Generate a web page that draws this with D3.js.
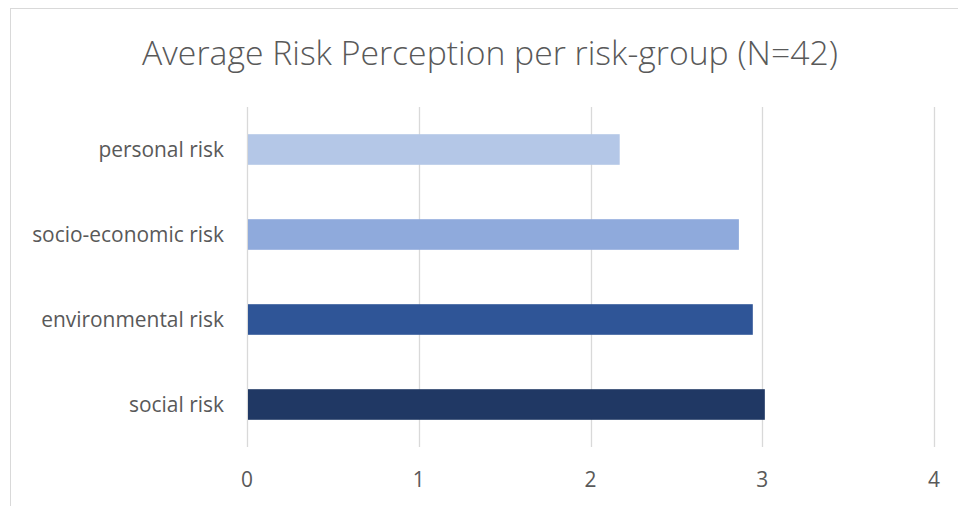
<!DOCTYPE html>
<html>
<head>
<meta charset="utf-8">
<script src="https://cdn.jsdelivr.net/npm/d3@7/dist/d3.min.js"></script>
<style>
  html, body { margin: 0; padding: 0; background: #fff; }
  svg { display: block; }
</style>
</head>
<body>
<svg id="chart" width="958" height="506"></svg>
<script>
const categories = ["personal risk", "socio-economic risk", "environmental risk", "social risk"];
const values = [2.17, 2.864, 2.945, 3.015];
const colors = ["#B4C7E7", "#8FAADC", "#2F5597", "#203864"];
const tickValues = [0, 1, 2, 3, 4];
const titleText = "Average Risk Perception per risk-group (N=42)";

const svg = d3.select("#chart");
const W = 958, H = 506;
const margin = { left: 247, right: 24, top: 107, bottom: 59 };
const fontFam = "'Open Sans', 'Noto Sans', sans-serif";
const textColor = "#595959";

// chart border
svg.append("rect")
  .attr("x", 10.5).attr("y", 8.5)
  .attr("width", W).attr("height", H)
  .attr("fill", "#fff").attr("stroke", "#d9d9d9").attr("stroke-width", 1);

const x = d3.scaleLinear().domain([0, 4]).range([247, 934]);
const y = d3.scaleBand().domain(categories).range([107, 447])
  .paddingInner(0.64).paddingOuter(0.32);

// gridlines
svg.append("g").selectAll("line").data(tickValues).join("line")
  .attr("x1", d => Math.round(x(d)) + 0.5).attr("x2", d => Math.round(x(d)) + 0.5)
  .attr("y1", 107).attr("y2", 447)
  .attr("stroke", "#d9d9d9").attr("stroke-width", 1.3);

// bars
svg.append("g").selectAll("rect").data(categories).join("rect")
  .attr("x", x(0) + 1)
  .attr("y", d => y(d))
  .attr("width", (d, i) => x(values[i]) - x(0) - 1)
  .attr("height", y.bandwidth())
  .attr("fill", (d, i) => colors[i]);

// category labels
const labels = svg.append("g").selectAll("text").data(categories).join("text")
  .attr("x", 224)
  .attr("y", d => y(d) + y.bandwidth() / 2)
  .attr("dy", "0.36em")
  .attr("text-anchor", "end")
  .attr("fill", textColor)
  .style("font-family", fontFam)
  .style("font-size", "18px")
  .text(d => d);

// fit label font size to target width of longest label
const longest = labels.filter(d => d === "socio-economic risk").node();
const lw = longest.getComputedTextLength();
const labelSize = 18 * 192 / lw;
labels.style("font-size", labelSize + "px");

// x axis tick labels
svg.append("g").selectAll("text").data(tickValues).join("text")
  .attr("x", d => x(d))
  .attr("y", 487)
  .attr("text-anchor", "middle")
  .attr("fill", textColor)
  .style("font-family", fontFam)
  .style("font-size", labelSize + "px")
  .text(d => d);

// title
const title = svg.append("text")
  .attr("x", 490).attr("y", 65)
  .attr("text-anchor", "middle")
  .attr("fill", textColor)
  .style("font-family", fontFam)
  .style("font-weight", 300)
  .style("font-size", "30px")
  .text(titleText);
const tw = title.node().getComputedTextLength();
title.style("font-size", (30 * 696 / tw) + "px");
</script>
</body>
</html>
